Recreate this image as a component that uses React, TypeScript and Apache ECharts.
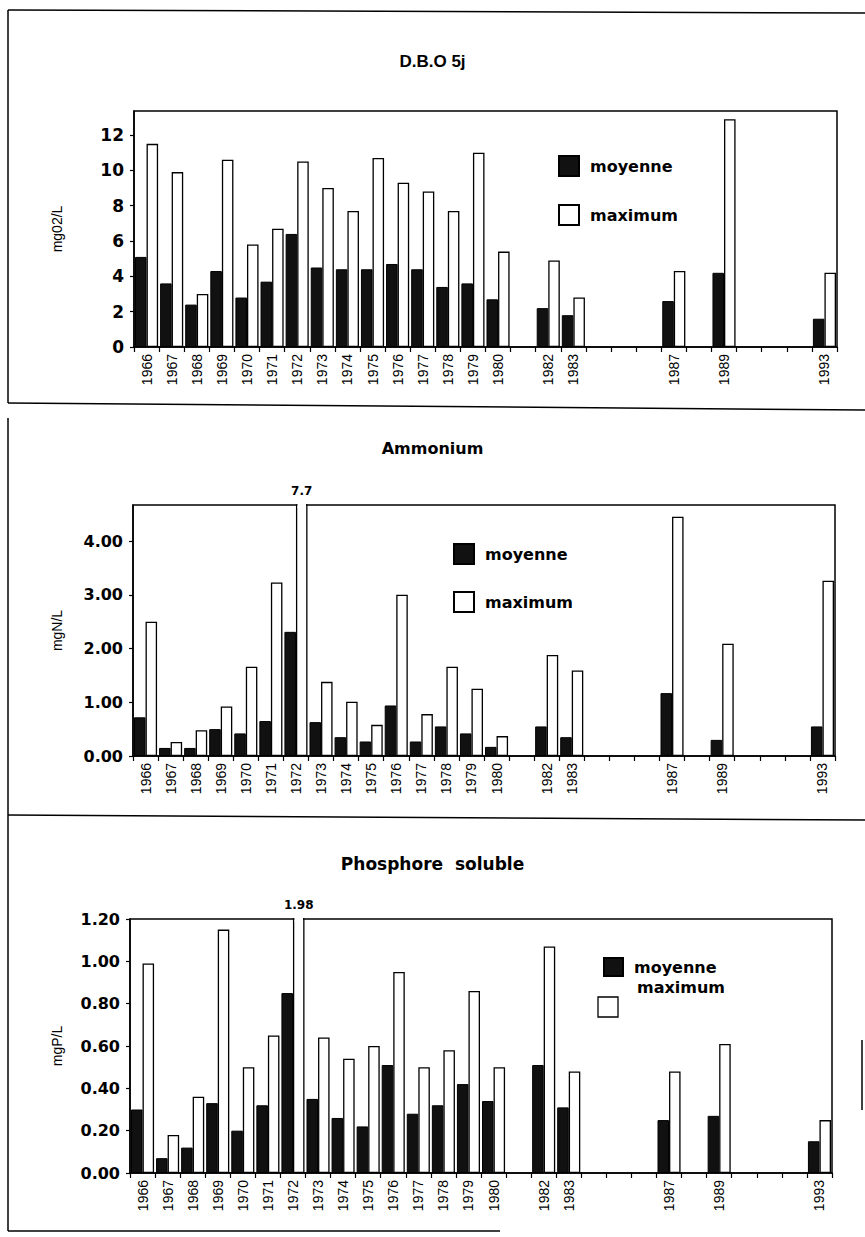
import React, { useEffect, useRef } from 'react';
import * as echarts from 'echarts';

// Years that carry data (and a label) on the x axes
const yearsWithData = ['1966', '1967', '1968', '1969', '1970', '1971', '1972', '1973', '1974', '1975',
  '1976', '1977', '1978', '1979', '1980', '1982', '1983', '1987', '1989', '1993'];
// Full year axis (one slot per year, labelled only where data exist)
const axisYears = ['1966', '1967', '1968', '1969', '1970', '1971', '1972', '1973', '1974', '1975',
  '1976', '1977', '1978', '1979', '1980', '1981', '1982', '1983', '1984', '1985', '1986', '1987',
  '1988', '1989', '1990', '1991', '1992', '1993'];

// D.B.O 5j (mgO2/L)
const dboMoyenne = [5.1, 3.6, 2.4, 4.3, 2.8, 3.7, 6.4, 4.5, 4.4, 4.4, 4.7, 4.4, 3.4, 3.6, 2.7, 2.2, 1.8, 2.6, 4.2, 1.6];
const dboMaximum = [11.5, 9.9, 3.0, 10.6, 5.8, 6.7, 10.5, 9.0, 7.7, 10.7, 9.3, 8.8, 7.7, 11.0, 5.4, 4.9, 2.8, 4.3, 12.9, 4.2];

// Ammonium (mgN/L)
const nh4Moyenne = [0.72, 0.15, 0.15, 0.5, 0.42, 0.65, 2.31, 0.63, 0.35, 0.27, 0.94, 0.27, 0.55, 0.42, 0.17, 0.55, 0.35, 1.17, 0.3, 0.55];
const nh4Maximum = [2.5, 0.26, 0.48, 0.92, 1.66, 3.23, 7.7, 1.38, 1.01, 0.58, 3.0, 0.78, 1.66, 1.25, 0.37, 1.88, 1.59, 4.45, 2.09, 3.26];

// Phosphore soluble (mgP/L)
const pMoyenne = [0.3, 0.07, 0.12, 0.33, 0.2, 0.32, 0.85, 0.35, 0.26, 0.22, 0.51, 0.28, 0.32, 0.42, 0.34, 0.51, 0.31, 0.25, 0.27, 0.15];
const pMaximum = [0.99, 0.18, 0.36, 1.15, 0.5, 0.65, 1.98, 0.64, 0.54, 0.6, 0.95, 0.5, 0.58, 0.86, 0.5, 1.07, 0.48, 0.48, 0.61, 0.25];

const titles = ['D.B.O 5j', 'Ammonium', 'Phosphore  soluble'];
const unitNames = ['mg02/L', 'mgN/L', 'mgP/L'];
const yMax = [13.36, 4.67, 1.2];
const yInterval = [2, 1, 0.2];
const yDecimals = [0, 2, 2];
const nameGaps = [70, 69, 66];
// off-scale maxima (value printed above the broken frame)
const offScaleLabels = [null, '7.7', '1.98'];

function spread(vals: number[]) {
  const m = new Map<string, number>();
  yearsWithData.forEach((y, i) => m.set(y, vals[i]));
  return axisYears.map((y) => (m.has(y) ? (m.get(y) as number) : null));
}

export default function App() {
  const ref = useRef<HTMLDivElement>(null);
  useEffect(() => {
    if (!ref.current) return;
    const chart = echarts.init(ref.current, undefined, { renderer: 'svg' });

    const grids = [
      { left: 134, top: 111, width: 703, height: 236 },
      { left: 133, top: 505, width: 702, height: 251 },
      { left: 130, top: 919, width: 702, height: 254 },
    ];
    const moy = [dboMoyenne, nh4Moyenne, pMoyenne];
    const max = [dboMaximum, nh4Maximum, pMaximum];

    const xAxes = grids.map((_, i) => ({
      type: 'category',
      gridIndex: i,
      data: axisYears,
      boundaryGap: true,
      axisLine: { lineStyle: { color: '#000', width: 1.5 } },
      axisTick: { show: true, interval: 0, length: 5, lineStyle: { color: '#000', width: 1.2 } },
      axisLabel: {
        interval: (_idx: number, val: string) => yearsWithData.includes(val),
        rotate: 90,
        margin: 7,
        color: '#000',
        fontFamily: 'Liberation Sans',
        fontSize: 14,
      },
    }));

    const yAxes = grids.map((_, i) => ({
      type: 'value',
      gridIndex: i,
      min: 0,
      max: yMax[i],
      interval: yInterval[i],
      name: unitNames[i],
      nameLocation: 'middle',
      nameGap: nameGaps[i],
      nameMoveOverlap: false,
      nameTextStyle: { color: '#000', fontFamily: 'Liberation Sans', fontSize: 14 },
      splitLine: { show: false },
      axisLine: { show: true, lineStyle: { color: '#000', width: 1.5 } },
      axisTick: { show: true, length: 4, lineStyle: { color: '#000', width: 1.2 } },
      axisLabel: {
        margin: 10,
        color: '#000',
        fontFamily: 'DejaVu Sans',
        fontWeight: 'bold',
        fontSize: i === 0 ? 17 : 16,
        showMaxLabel: i === 2,
        formatter: (v: number) => v.toFixed(yDecimals[i]),
      },
    }));

    const series: any[] = [];
    grids.forEach((_, i) => {
      series.push({
        type: 'bar',
        name: 'moyenne',
        xAxisIndex: i,
        yAxisIndex: i,
        data: spread(moy[i]),
        barGap: '0%',
        barCategoryGap: '8%',
        clip: true,
        itemStyle: { color: '#111', borderColor: '#000', borderWidth: 1 },
      });
      const maxData: any[] = spread(max[i]).map((v) => {
        if (v !== null && v > yMax[i] && offScaleLabels[i]) {
          return {
            value: v,
            label: {
              show: true,
              position: 'top',
              distance: 7,
              formatter: offScaleLabels[i],
              color: '#000',
              fontFamily: 'DejaVu Sans',
              fontWeight: 'bold',
              fontSize: 12,
            },
          };
        }
        return v;
      });
      series.push({
        type: 'bar',
        name: 'maximum',
        xAxisIndex: i,
        yAxisIndex: i,
        data: maxData,
        barGap: '0%',
        barCategoryGap: '8%',
        clip: true,
        itemStyle: { color: '#fff', borderColor: '#000', borderWidth: 1.3 },
      });
    });

    const legendText = { color: '#000', fontFamily: 'DejaVu Sans', fontWeight: 'bold', fontSize: 16, padding: [0, 0, 0, 6] };

    const frameLine = (x1: number, y1: number, x2: number, y2: number) => ({
      type: 'line',
      shape: { x1, y1, x2, y2 },
      style: { stroke: '#000', lineWidth: 1.5 },
      silent: true,
    });

    const baseGraphics: any[] = [
      frameLine(8, 10, 865, 13),
      frameLine(8, 10, 8, 403),
      frameLine(8, 403, 865, 410),
      frameLine(8, 418, 8, 815),
      frameLine(8, 815, 865, 820),
      frameLine(8, 815, 8, 1231),
      frameLine(8, 1231, 500, 1231),
      frameLine(862, 1040, 862, 1110),
      {
        type: 'text',
        left: 637,
        top: 979,
        style: { text: 'maximum', fill: '#000', font: 'bold 16px "DejaVu Sans"' },
      },
      {
        type: 'rect',
        shape: { x: 598, y: 997, width: 20, height: 20 },
        style: { fill: '#fff', stroke: '#000', lineWidth: 1.3 },
      },
    ];

    chart.setOption({
      animation: false,
      backgroundColor: '#fff',
      title: [
        { text: titles[0], left: 'center', top: 53, padding: [0, 0, 0, 10], textStyle: { fontFamily: 'Liberation Sans', fontWeight: 'bold', fontSize: 17, color: '#000' } },
        { text: titles[1], left: 'center', top: 440, padding: [0, 0, 0, 10], textStyle: { fontFamily: 'DejaVu Sans', fontWeight: 'bold', fontSize: 16, color: '#000' } },
        { text: titles[2], left: 'center', top: 855, padding: [0, 0, 0, 10], textStyle: { fontFamily: 'DejaVu Sans', fontWeight: 'bold', fontSize: 17, color: '#000' } },
      ],
      legend: [
        { data: ['moyenne', 'maximum'], left: 553, top: 150, orient: 'vertical', icon: 'rect', itemWidth: 20, itemHeight: 20, itemGap: 27, selectedMode: false, textStyle: legendText },
        { data: ['moyenne', 'maximum'], left: 448, top: 538, orient: 'vertical', icon: 'rect', itemWidth: 20, itemHeight: 20, itemGap: 26, selectedMode: false, textStyle: legendText },
        { data: ['moyenne'], left: 598, top: 952, orient: 'vertical', icon: 'rect', itemWidth: 19, itemHeight: 18, selectedMode: false, textStyle: legendText },
      ],
      grid: grids.map((g) => ({ ...g, show: true, borderColor: '#000', borderWidth: 1.5, backgroundColor: 'transparent' })),
      xAxis: xAxes,
      yAxis: yAxes,
      series,
      graphic: baseGraphics,
    });

    // open the frame above the off-scale bars (frame interrupted by the bar)
    try {
      const model: any = (chart as any).getModel();
      const extra: any[] = [];
      grids.forEach((g, i) => {
        if (!offScaleLabels[i]) return;
        const s = model.getSeriesByIndex(i * 2 + 1);
        const data = s.getData();
        const dim = data.mapDimension('y');
        for (let k = 0; k < data.count(); k++) {
          const val = data.get(dim, k);
          if (val > yMax[i]) {
            const lay = data.getItemLayout(k);
            if (lay) {
              extra.push({
                type: 'rect',
                shape: { x: lay.x + 1.5, y: g.top - 2.5, width: lay.width - 3, height: 5 },
                style: { fill: '#fff' },
                z: 100,
                silent: true,
              });
            }
          }
        }
      });
      if (extra.length) chart.setOption({ graphic: [...baseGraphics, ...extra] });
    } catch (e) {
      // ignore
    }

    return () => chart.dispose();
  }, []);

  return <div ref={ref} style={{ position: 'absolute', left: 0, top: 0, width: 865, height: 1237 }} />;
}
